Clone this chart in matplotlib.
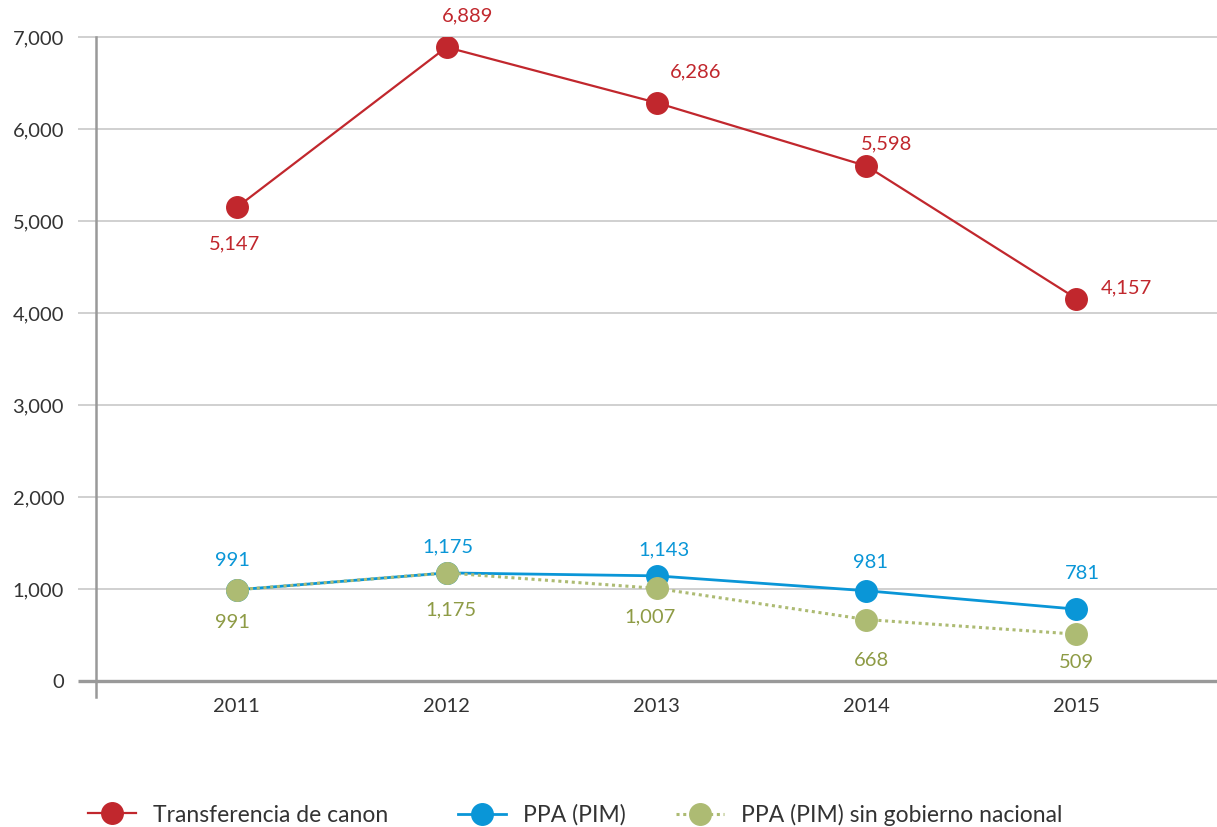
import matplotlib

matplotlib.use("Agg")
import matplotlib.pyplot as plt  # noqa: E402
from matplotlib.lines import Line2D  # noqa: E402

plt.rcParams["font.family"] = ["Lato", "DejaVu Sans"]

YEARS = ["2011", "2012", "2013", "2014", "2015"]
CANON = [5147, 6889, 6286, 5598, 4157]
PPA = [991, 1175, 1143, 981, 781]
PPA_SIN_GN = [991, 1175, 1007, 668, 509]
Y_TICKS = [0, 1000, 2000, 3000, 4000, 5000, 6000, 7000]
LABELS = ["Transferencia de canon", "PPA (PIM)", "PPA (PIM) sin gobierno nacional"]

RED = "#C1272D"
BLUE = "#0A96D7"
GREEN = "#ADBB73"
GREEN_TXT = "#8E9B45"
TXT = "#333333"

# label offsets in pixels (dx, dy) for each point
OFF_CANON = [(-2, -36), (21, 31), (39, 31), (20, 22), (50, 11)]
OFF_PPA = [(-4, 29), (1, 26), (7, 26), (4, 28), (6, 36)]
OFF_SIN = [(-4, -33), (4, -37), (-7, -29), (5, -41), (0, -28)]

fig = plt.figure(figsize=(12.17, 8.27), dpi=100)
ax = fig.add_axes([96 / 1217, 1 - 681 / 827, 1 - 96 / 1217, (681 - 37) / 827])

x = list(range(len(YEARS)))
ax.plot(x, CANON, color=RED, lw=1.6, marker="o", ms=15.5, zorder=3)
ax.plot(x, PPA, color=BLUE, lw=2.0, marker="o", ms=15.5, zorder=4)
ax.plot(x, PPA_SIN_GN, color=GREEN, lw=2.2, ls=(0, (1, 1.2)), marker="o",
        ms=15.5, zorder=5)

for series, offs, col in [(CANON, OFF_CANON, RED), (PPA, OFF_PPA, BLUE),
                          (PPA_SIN_GN, OFF_SIN, GREEN_TXT)]:
    for i, (v, (dx, dy)) in enumerate(zip(series, offs)):
        ax.annotate(f"{v:,}", (i, v), xytext=(dx, dy), textcoords="offset pixels",
                    ha="center", va="center", color=col, fontsize=14.5)

ax.set_xlim(-0.67, 4.67)
ax.set_ylim(0, 7000)
ax.set_xticks(x)
ax.set_xticklabels(YEARS)
ax.set_yticks(Y_TICKS)
ax.set_yticklabels([f"{t:,}" for t in Y_TICKS])
ax.tick_params(axis="both", length=0, labelsize=14.5, labelcolor=TXT)
ax.tick_params(axis="y", pad=23)
ax.tick_params(axis="x", pad=12)
for s in ax.spines.values():
    s.set_visible(False)

ytr = ax.get_yaxis_transform()
ax.hlines(Y_TICKS[1:], -0.016, 1, transform=ytr, color="#C8C8C8", lw=1.2,
          clip_on=False, zorder=1)
ax.hlines([0], -0.016, 1, transform=ytr, color="#999999", lw=2.4,
          clip_on=False, zorder=2)
ax.plot([0, 0], [-175, 7000], transform=ytr, color="#999999", lw=1.8,
        clip_on=False, zorder=2)

# legend entries placed individually
entries = [
    (Line2D([], [], color=RED, lw=1.6, marker="o", ms=15.5), LABELS[0], 88),
    (Line2D([], [], color=BLUE, lw=2.0, marker="o", ms=15.5), LABELS[1], 458),
    (Line2D([], [], color=GREEN, lw=2.2, ls=(0, (1, 1.2)), marker="o", ms=15.5),
     LABELS[2], 676),
]
for handle, label, xpx in entries:
    fig.legend([handle], [label], loc="center left",
               bbox_to_anchor=(xpx / 1217, 1 - 815 / 827), frameon=False,
               fontsize=16.5, handlelength=2.1, handletextpad=0.75,
               borderpad=0, borderaxespad=0, labelcolor=TXT)

fig.savefig("out.png", dpi=100)
